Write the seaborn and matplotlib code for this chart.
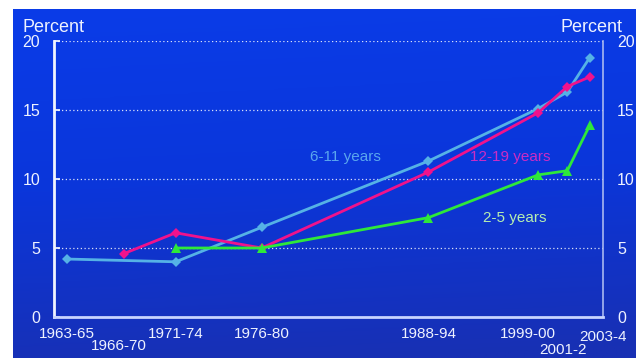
import numpy as np
import pandas as pd
import matplotlib
matplotlib.use("Agg")
import matplotlib.pyplot as plt
from matplotlib.colors import LinearSegmentedColormap
import seaborn as sns

# Survey periods and where each sits on the time axis (approximate mid-years)
periods = ["1963-65", "1966-70", "1971-74", "1976-80", "1988-94", "1999-00", "2001-2", "2003-4"]
period_x = [1964.0, 1968.3, 1972.2, 1978.7, 1991.3, 1999.6, 2001.8, 2003.5]

# Percent overweight by age group (None = not surveyed)
age_6_11 = [4.2, None, 4.0, 6.5, 11.3, 15.1, 16.3, 18.8]
age_12_19 = [None, 4.6, 6.1, 5.0, 10.5, 14.8, 16.7, 17.4]
age_2_5 = [None, None, 5.0, 5.0, 7.2, 10.3, 10.6, 13.9]

y_ticks = [0, 5, 10, 15, 20]

groups = ["6-11 years", "12-19 years", "2-5 years"]
series = [age_6_11, age_12_19, age_2_5]

rows = []
for g, vals in zip(groups, series):
    for p, x, v in zip(periods, period_x, vals):
        if v is not None:
            rows.append({"group": g, "period": p, "x": x, "pct": v})
df = pd.DataFrame(rows)

sns.set_theme(style="white")
plt.rcParams["font.family"] = ["Liberation Sans", "DejaVu Sans"]

W, H = 636, 358
fig = plt.figure(figsize=(W / 100, H / 100), dpi=100, facecolor="white")

# Blue gradient panel behind the chart
bg = fig.add_axes([13 / W, 0, 1 - 13 / W, (H - 9) / H])
bg.set_axis_off()
cmap = LinearSegmentedColormap.from_list("panel", ["#0a3ce8", "#0b36da", "#1830b4"])
grad = np.linspace(0, 1, 256).reshape(-1, 1)
xs = np.linspace(0, 1, 64).reshape(1, -1)
field = np.clip(grad * 0.95 + xs * 0.08, 0, 1)
bg.imshow(field, aspect="auto", cmap=cmap, extent=[0, 1, 0, 1], origin="upper")

ax = fig.add_axes([54 / W, (H - 317) / H, (603 - 54) / W, (317 - 41) / H])
ax.set_facecolor("none")

palette = {"6-11 years": "#55b2e6", "12-19 years": "#f0128c", "2-5 years": "#2ee83a"}
markers = {"6-11 years": "D", "12-19 years": "D", "2-5 years": "^"}
sizes = {"6-11 years": 5, "12-19 years": 5, "2-5 years": 7}

for g in groups:
    sub = df[df["group"] == g]
    sns.lineplot(data=sub, x="x", y="pct", ax=ax, color=palette[g],
                 marker=markers[g], markersize=sizes[g], markeredgewidth=0,
                 linewidth=2.0, legend=False, zorder=3)

ax.set_xlim(1963.0, 2004.5)
ax.set_ylim(0, 20)
ax.set_xlabel("")
ax.set_ylabel("")

# Dotted gridlines
for v in y_ticks[1:]:
    ax.axhline(v, color="white", alpha=0.85, linewidth=0.9,
               linestyle=(0, (1, 2)), zorder=1)

ax.spines["top"].set_visible(False)
ax.spines["left"].set_color("#f0f4ff")
ax.spines["left"].set_linewidth(2)
ax.spines["bottom"].set_color("#c8d4ff")
ax.spines["bottom"].set_linewidth(2)
ax.spines["right"].set_color("#a8b8f0")
ax.spines["right"].set_linewidth(1.2)

tick_color = "#eef2ff"
ax.set_yticks(y_ticks)
ax.set_yticklabels([str(t) for t in y_ticks])
ax.tick_params(axis="y", which="both", left=True, right=False, labelleft=True,
               labelright=True, direction="in", length=4, width=1.2,
               color="white", labelcolor=tick_color, labelsize=11.5, pad=10)

ax.set_xticks(period_x)
ax.set_xticklabels([""] * len(period_x))
ax.tick_params(axis="x", direction="inout", length=7, width=1.3, color="white")

# Period labels below the axis, staggered where they crowd
label_offsets = [(0, -17), (-5, -29), (0, -17), (0, -17), (0, -17),
                 (-10, -17), (-4, -33), (13, -20)]
for p, x, (dx, dy) in zip(periods, period_x, label_offsets):
    ax.annotate(p, xy=(x, 0), xycoords="data", xytext=(dx, dy),
                textcoords="offset pixels", ha="center", va="center",
                color=tick_color, fontsize=11, annotation_clip=False)

# Series labels
ax.text(1985.0, 11.6, "6-11 years", color="#5aa6ee", fontsize=11,
        ha="center", va="center")
ax.text(1997.5, 11.6, "12-19 years", color="#cc2cc4", fontsize=11,
        ha="center", va="center")
ax.text(1997.8, 7.2, "2-5 years", color="#b6eeb0", fontsize=11,
        ha="center", va="center")

# Axis titles
fig.text(22 / W, 1 - 27 / H, "Percent", color=tick_color, fontsize=13,
         ha="left", va="center")
fig.text(623 / W, 1 - 27 / H, "Percent", color=tick_color, fontsize=13,
         ha="right", va="center")

fig.savefig("out.png", dpi=100, facecolor="white")
